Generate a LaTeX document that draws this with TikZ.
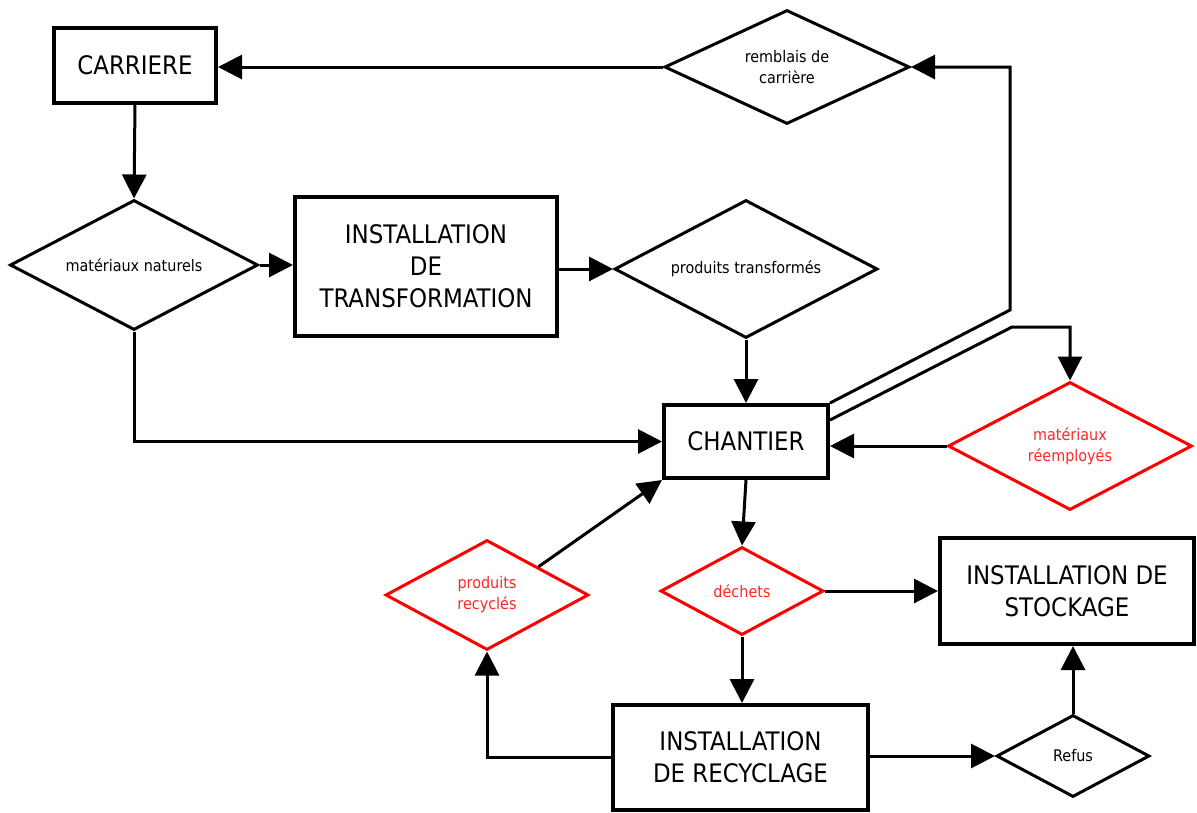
\documentclass[tikz,border=0pt]{standalone}
\usepackage{fontspec}
\setmainfont{DejaVu Sans Condensed}
\usetikzlibrary{shapes.geometric,arrows.meta}
\begin{document}
\begin{tikzpicture}[x=1pt,y=-1pt,
  box/.style={draw, line width=4pt, align=center, inner sep=0pt, font=\fontsize{25.5}{32}\selectfont},
  dia/.style={draw, diamond, aspect=2, line width=3pt, align=center, inner sep=0pt, font=\fontsize{16}{21}\selectfont},
  reddia/.style={dia, draw=red, text=red!85!white},
  conn/.style={line width=3pt, -{Triangle[length=24pt,width=24pt]}},
  plain/.style={line width=3pt}]
\useasboundingbox (0,0) rectangle (1197,812);
% boxes
\node[box, minimum width=162pt, minimum height=75pt] (car) at (135,65) {CARRIERE};
\node[box, minimum width=262pt, minimum height=139pt] (tr) at (426,266.5) {INSTALLATION\\DE\\TRANSFORMATION};
\node[box, minimum width=164pt, minimum height=73pt] (ch) at (746,441.5) {CHANTIER};
\node[box, minimum width=254pt, minimum height=106pt] (st) at (1067,591) {INSTALLATION DE\\STOCKAGE};
\node[box, minimum width=255pt, minimum height=105pt] (rec) at (740.5,757.5) {INSTALLATION\\DE RECYCLAGE};
% diamonds
\node[dia, minimum width=248pt, minimum height=130pt] (mn) at (134,265) {matériaux naturels};
\node[dia, minimum width=245pt, minimum height=114pt] (rc) at (787,67) {remblais de\\carrière};
\node[dia, minimum width=263pt, minimum height=138pt] (pt) at (746,269) {produits transformés};
\node[reddia, minimum width=244pt, minimum height=128pt] (mr) at (1070,446) {matériaux\\réemployés};
\node[reddia, minimum width=163pt, minimum height=88pt] (dc) at (742,591) {déchets};
\node[reddia, minimum width=203pt, minimum height=110pt] (pr) at (487,595) {produits\\recyclés};
\node[dia, minimum width=153pt, minimum height=82pt] (rf) at (1073,756) {Refus};
% helper coordinates
\coordinate (k1) at (1010,310);
\coordinate (k2a) at ([yshift=-17pt]ch.north east);
\coordinate (k2) at (1012,327);
% connectors
\draw[conn] (rc.west) -- (rc.west -| car.east);
\draw[conn] (car.south) -- (mn.north);
\draw[conn] (mn.east) -- (mn.east -| tr.west);
\draw[conn] (tr.east |- pt.west) -- (pt.west);
\draw[conn] (pt.south) -- (pt.south |- ch.north);
\draw[conn] (mn.south) |- (ch.west);
\draw[conn] (mr.west) -- (mr.west -| ch.east);
\draw[conn] (ch.north east) -- (k1) |- (rc.east);
\draw[conn] (k2a) -- (k2) -| (mr.north);
\draw[conn] (ch.south) -- (dc.north);
\draw[conn] (dc.east) -- (dc.east -| st.west);
\draw[conn] (dc.south) -- (dc.south |- rec.north);
\draw[conn] (rec.east |- rf.west) -- (rf.west);
\draw[conn] (rf.north) -- (rf.north |- st.south);
\draw[conn] (rec.west) -| (pr.south);
\draw[conn] (pr.north east) -- (ch.south west);
\end{tikzpicture}
\end{document}
